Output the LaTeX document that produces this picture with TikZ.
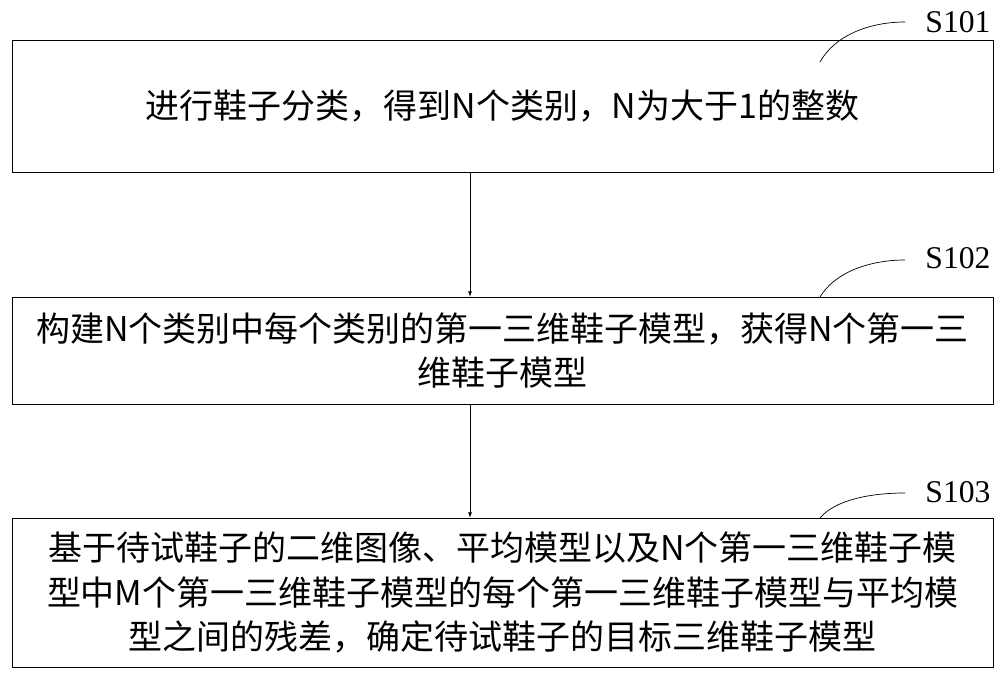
\documentclass[tikz,border=0pt]{standalone}
\usepackage{fontspec}
\newfontfamily\cjk{Noto Sans CJK SC}
\setmainfont{Liberation Serif}
\usetikzlibrary{arrows}
\tikzstyle{every node}=[font=\cjk\fontsize{29}{38}\selectfont]
\begin{document}
\begin{tikzpicture}[line cap=round,line join=round,>=latex,x=0.03cm,y=-0.03cm]
            \useasboundingbox (0,0) rectangle (1000,675);
            % boxes
            \node [draw,line width=0.6pt,minimum width=981*0.03cm,minimum height=132*0.03cm] (s1) at (502.5,106) {进行鞋子分类，得到N个类别，N为大于1的整数};
            \node [draw,line width=0.6pt,minimum width=981*0.03cm,minimum height=107*0.03cm,align=center,inner xsep=0pt] (s2) at (502.5,350.5) {构建N个类别中每个类别的第一三维鞋子模型，获得N个第一三\\维鞋子模型};
            \node [draw,line width=0.6pt,minimum width=981*0.03cm,minimum height=149*0.03cm,align=center,inner xsep=0pt] (s3) at (502.5,592.5) {基于待试鞋子的二维图像、平均模型以及N个第一三维鞋子模\\型中M个第一三维鞋子模型的每个第一三维鞋子模型与平均模\\型之间的残差，确定待试鞋子的目标三维鞋子模型};
            \draw [->,line width=0.6pt] (s1.south -| 470,0) -- (s2.north -| 470,0);
            \draw [->,line width=0.6pt] (s2.south -| 470,0) -- (s3.north -| 470,0);
            % step labels
            \node [font=\rmfamily\fontsize{27}{30}\selectfont] (l1) at (958,22) {S101};
            \node [font=\rmfamily\fontsize{27}{30}\selectfont] (l2) at (958,258) {S102};
            \node [font=\rmfamily\fontsize{27}{30}\selectfont] (l3) at (958,492) {S103};
            \draw [line width=0.6pt] (820,62) .. controls (835,35) and (870,22) .. (905,22);
            \draw [line width=0.6pt] (820,297) .. controls (835,272) and (870,260) .. (905,260);
            \draw [line width=0.6pt] (820,518) .. controls (835,500) and (870,493) .. (905,493);
\end{tikzpicture}
\end{document}
